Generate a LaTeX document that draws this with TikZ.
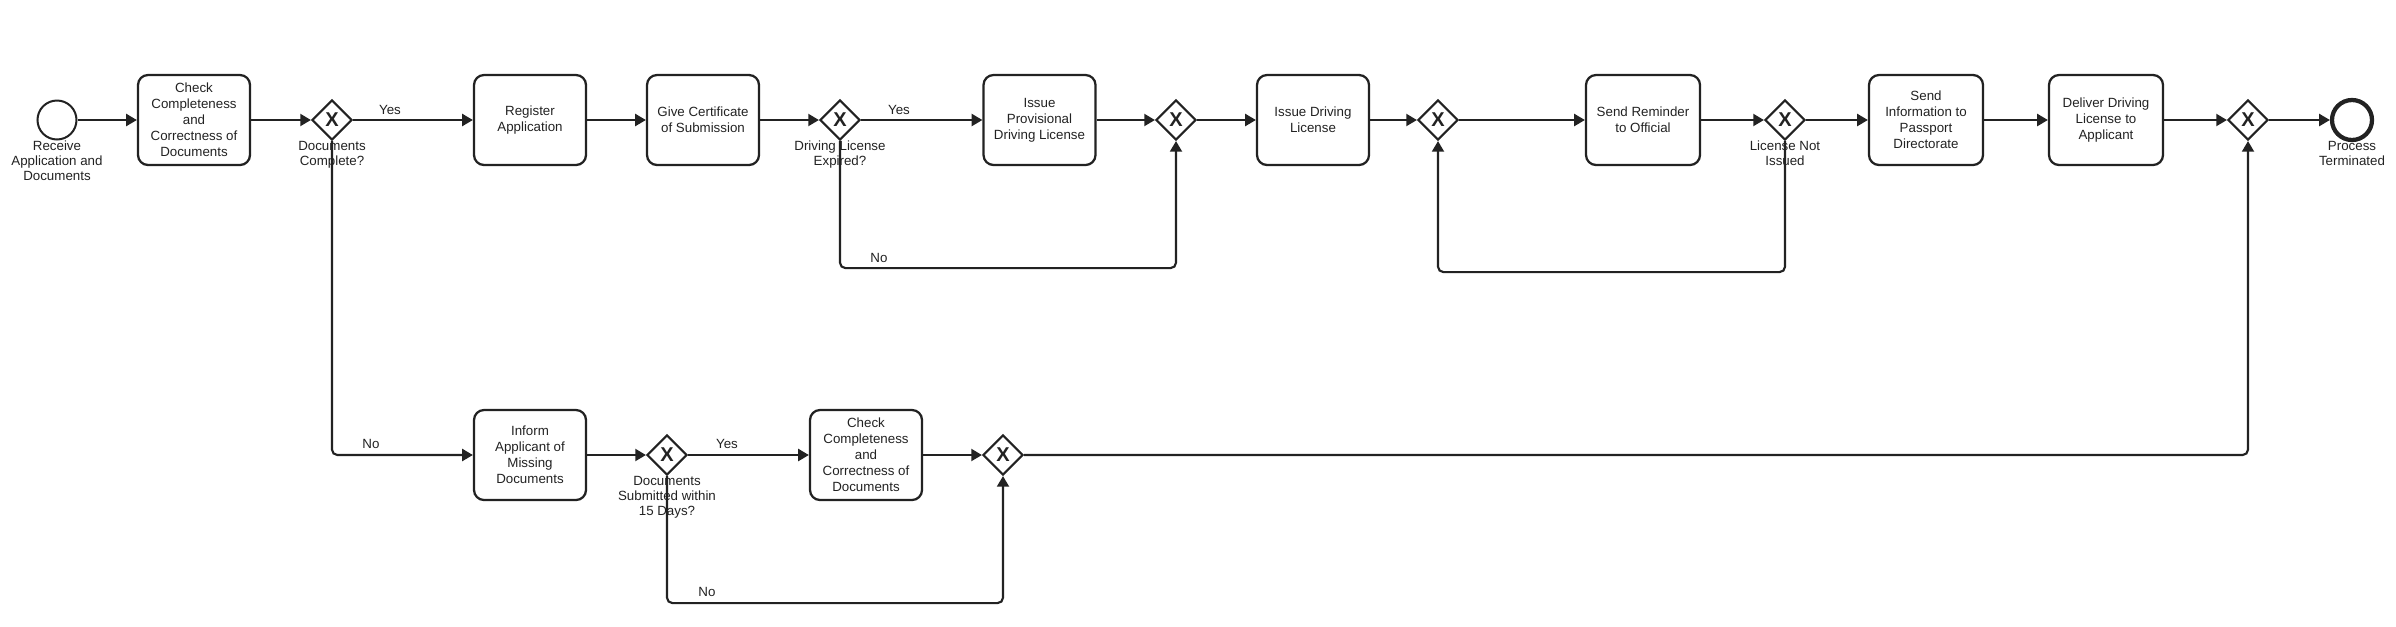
\documentclass[tikz,border=0pt]{standalone}
\usepackage{fontspec}
\setmainfont{Liberation Sans}
\usetikzlibrary{arrows.meta,shapes.geometric}
\definecolor{ink}{HTML}{222222}
\begin{document}
\begin{tikzpicture}[x=0.75pt,y=-0.75pt,
  every node/.style={font=\fontsize{10}{12}\selectfont, text=ink},
  task/.style={draw=ink, line width=1.7pt, rounded corners=7.5pt, minimum width=84pt, minimum height=67.5pt, align=center, inner sep=2pt},
  widetask/.style={task, minimum width=85.5pt},
  gateway/.style={diamond, draw=ink, line width=1.6pt, minimum width=30pt, minimum height=30pt, inner sep=0pt, aspect=1, fill=white, font=\fontsize{15}{15}\selectfont\bfseries},
  startev/.style={circle, draw=ink, line width=1.5pt, minimum size=29.25pt, inner sep=0pt},
  endev/.style={circle, draw=ink, line width=3.2pt, minimum size=30pt, inner sep=0pt},
  lbl/.style={align=center, anchor=north, inner sep=0pt, font=\fontsize{10}{11.25}\selectfont},
  flow/.style={draw=ink, line width=1.6pt, rounded corners=4pt, -{Triangle[length=8pt,width=9pt]}},
]
\useasboundingbox (0,0) rectangle (2396,626);

% events
\node[startev] (start) at (57,120) {};
\node[endev] (end) at (2352,120) {};
\node[lbl] (startlbl) at (57,141) {Receive\\Application and\\Documents};
\node[lbl] (endlbl) at (2352,141) {Process\\Terminated};

% upper tasks
\node[task] (check1) at (194,120) {Check\\Completeness\\and\\Correctness of\\Documents};
\node[task] (reg) at (530,120) {Register\\Application};
\node[task] (cert) at (703,120) {Give Certificate\\of Submission};
\node[task] (prov) at (1039.5,120) {Issue\\Provisional\\Driving License};
\node[task] (idl) at (1313,120) {Issue Driving\\License};
\node[widetask] (remind) at (1643,120) {Send Reminder\\to Official};
\node[widetask] (info) at (1926,120) {Send\\Information to\\Passport\\Directorate};
\node[widetask] (deliver) at (2106,120) {Deliver Driving\\License to\\Applicant};

% lower tasks
\node[task] (inform) at (530,455) {Inform\\Applicant of\\Missing\\Documents};
\node[task] (check2) at (866,455) {Check\\Completeness\\and\\Correctness of\\Documents};

% gateways
\node[gateway] (g1) at (332,120) {X};
\node[gateway] (g2) at (840,120) {X};
\node[gateway] (g3) at (1176,120) {X};
\node[gateway] (g4) at (1438,120) {X};
\node[gateway] (g5) at (1785,120) {X};
\node[gateway] (g6) at (2248,120) {X};
\node[gateway] (g7) at (667,455) {X};
\node[gateway] (g8) at (1003,455) {X};

% flows upper
\draw[flow] (start) -- (check1);
\draw[flow] (check1) -- (g1);
\draw[flow] (g1) -- (reg);
\draw[flow] (reg) -- (cert);
\draw[flow] (cert) -- (g2);
\draw[flow] (g2) -- (prov);
\draw[flow] (prov) -- (g3);
\draw[flow] (g3) -- (idl);
\draw[flow] (idl) -- (g4);
\draw[flow] (g4) -- (remind);
\draw[flow] (remind) -- (g5);
\draw[flow] (g5) -- (info);
\draw[flow] (info) -- (deliver);
\draw[flow] (deliver) -- (g6);
\draw[flow] (g6) -- (end);

% loops
\draw[flow] (g2.south) -- ++(0,127) -| (g3.south);
\draw[flow] (g5.south) -- ++(0,131) -| (g4.south);

% lower flows
\draw[flow] (g1.south) |- (inform.west);
\draw[flow] (inform) -- (g7);
\draw[flow] (g7) -- (check2);
\draw[flow] (check2) -- (g8);
\draw[flow] (g7.south) -- ++(0,127) -| (g8.south);
\draw[flow] (g8.east) -| (g6.south);

% gateway labels
\node[lbl] (g1lbl) at (332,141) {Documents\\Complete?};
\node[lbl] (g2lbl) at (840,141) {Driving License\\Expired?};
\node[lbl] (g5lbl) at (1785,141) {License Not\\Issued};
\node[lbl] (g7lbl) at (667,476) {Documents\\Submitted within\\15 Days?};

% edge labels
\node (y1) at (390,110) {Yes};
\node (y2) at (899,110) {Yes};
\node (y3) at (727,444) {Yes};
\node (n1) at (879,258) {No};
\node (n2) at (371,444) {No};
\node (n3) at (707,592) {No};
\end{tikzpicture}
\end{document}
